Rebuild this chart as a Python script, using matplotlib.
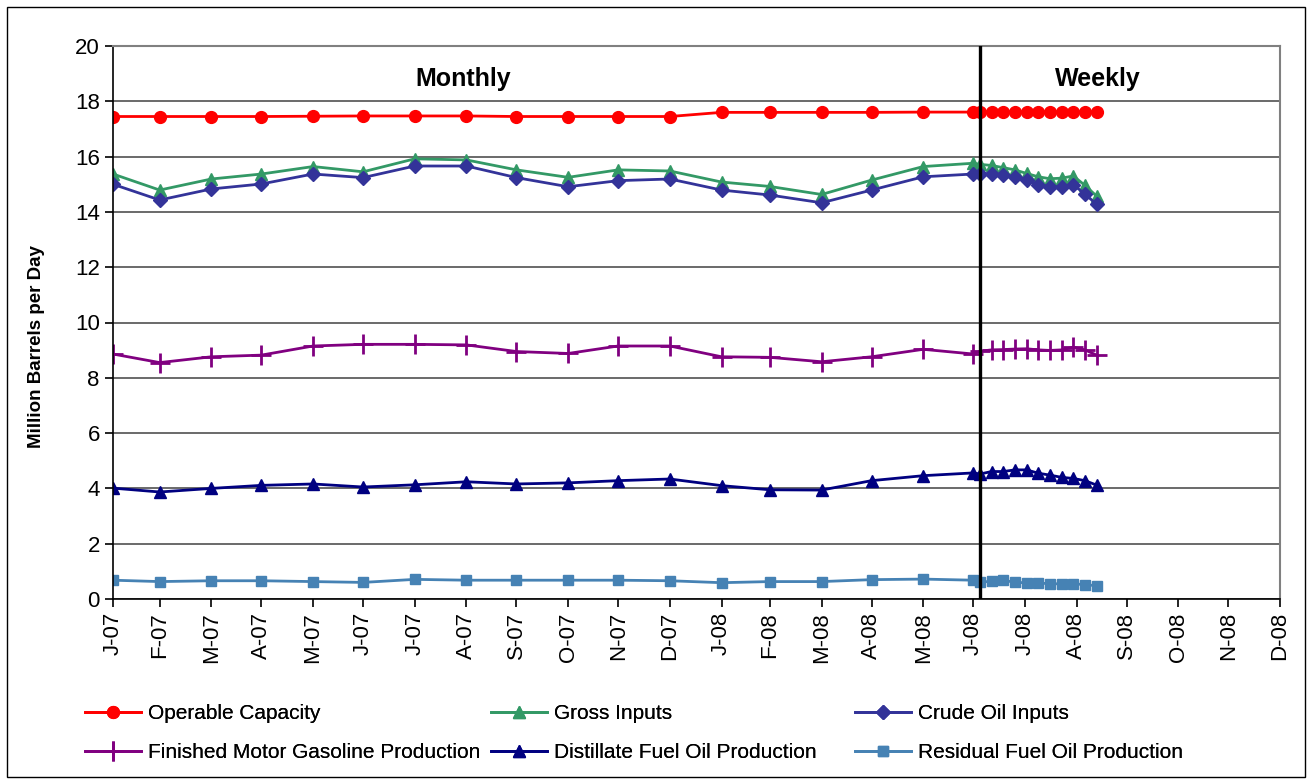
import matplotlib
matplotlib.use("Agg")
import matplotlib.pyplot as plt
import matplotlib.dates as mdates
from matplotlib.patches import Rectangle
import pandas as pd

plt.rcParams['font.family'] = ['Liberation Sans', 'DejaVu Sans']

# monthly points are dated at month end, weekly points are week-ending Fridays
monthly_dates = pd.date_range('2007-01-31', '2008-06-30', freq='ME')
weekly_dates = pd.date_range('2008-07-04', periods=11, freq='7D')
tick_dates = pd.date_range('2007-01-31', '2008-12-31', freq='ME')
tick_labels = ['J-07', 'F-07', 'M-07', 'A-07', 'M-07', 'J-07', 'J-07', 'A-07',
               'S-07', 'O-07', 'N-07', 'D-07', 'J-08', 'F-08', 'M-08', 'A-08',
               'M-08', 'J-08', 'J-08', 'A-08', 'S-08', 'O-08', 'N-08', 'D-08']

capacity_m = [17.45, 17.45, 17.45, 17.45, 17.46, 17.47, 17.47, 17.47, 17.45,
              17.45, 17.45, 17.45, 17.60, 17.60, 17.60, 17.60, 17.61, 17.61]
capacity_w = [17.62, 17.62, 17.62, 17.62, 17.62, 17.62, 17.62, 17.62, 17.62, 17.62, 17.62]

gross_m = [15.37, 14.79, 15.19, 15.37, 15.64, 15.45, 15.92, 15.88, 15.52,
           15.25, 15.52, 15.48, 15.08, 14.92, 14.63, 15.15, 15.64, 15.76]
gross_w = [15.72, 15.68, 15.60, 15.52, 15.39, 15.27, 15.20, 15.22, 15.30, 14.96, 14.57]

crude_m = [15.00, 14.43, 14.83, 15.01, 15.37, 15.24, 15.66, 15.66, 15.24,
           14.91, 15.13, 15.19, 14.79, 14.61, 14.33, 14.79, 15.27, 15.37]
crude_w = [15.38, 15.38, 15.32, 15.26, 15.15, 14.99, 14.91, 14.91, 14.98, 14.65, 14.27]

gasoline_m = [8.86, 8.55, 8.76, 8.82, 9.15, 9.21, 9.21, 9.19, 8.95,
              8.88, 9.15, 9.15, 8.76, 8.74, 8.58, 8.76, 9.03, 8.86]
gasoline_w = [8.96, 9.01, 9.02, 9.04, 9.05, 9.01, 8.99, 9.01, 9.11, 9.01, 8.82]

distillate_m = [4.01, 3.87, 4.00, 4.11, 4.16, 4.05, 4.13, 4.24, 4.16,
                4.20, 4.28, 4.34, 4.10, 3.95, 3.94, 4.28, 4.46, 4.56]
distillate_w = [4.52, 4.61, 4.61, 4.67, 4.67, 4.55, 4.48, 4.40, 4.36, 4.28, 4.12]

residual_m = [0.68, 0.63, 0.66, 0.66, 0.63, 0.60, 0.71, 0.68, 0.68,
              0.68, 0.68, 0.66, 0.59, 0.63, 0.63, 0.70, 0.72, 0.68]
residual_w = [0.61, 0.64, 0.67, 0.61, 0.58, 0.58, 0.55, 0.55, 0.55, 0.52, 0.48]

dates = list(monthly_dates) + list(weekly_dates)

fig = plt.figure(figsize=(13.09, 7.80), dpi=100)
ax = fig.add_axes([113/1309, 1 - 599/780, 1167/1309, 553/780])

ax.set_ylim(0, 20)
ax.set_yticks(range(0, 21, 2))
ax.set_xlim(tick_dates[0], tick_dates[-1])
ax.yaxis.grid(True, color='#505050', linewidth=1.2)
ax.set_axisbelow(True)

s1, = ax.plot(dates, capacity_m + capacity_w, color='#FF0000', lw=2,
              marker='o', ms=8.5)
s2, = ax.plot(dates, gross_m + gross_w, color='#339966', lw=2,
              marker='^', ms=8.5)
s3, = ax.plot(dates, crude_m + crude_w, color='#333399', lw=2,
              marker='D', ms=7)
s4, = ax.plot(dates, gasoline_m + gasoline_w, color='#800080', lw=2,
              marker='+', ms=14, mew=2)
s5, = ax.plot(dates, distillate_m + distillate_w, color='#000080', lw=2,
              marker='^', ms=8.5)
s6, = ax.plot(dates, residual_m + residual_w, color='#4682B4', lw=2,
              marker='s', ms=7.5)

# split between monthly and weekly data
ax.axvline(weekly_dates[0], color='black', lw=2.4, zorder=5)

ax.text(0.30, 0.94, 'Monthly', transform=ax.transAxes, ha='center', va='center',
        fontsize=18, fontweight='bold')
ax.text(0.844, 0.94, 'Weekly', transform=ax.transAxes, ha='center', va='center',
        fontsize=18, fontweight='bold')

ax.set_xticks(tick_dates)
ax.set_xticklabels(tick_labels, rotation=90, fontsize=16)
ax.tick_params(axis='y', labelsize=16, length=6, width=1.2)
ax.tick_params(axis='x', length=6, width=1.2)
ax.set_ylabel('Million Barrels per Day', fontsize=13.5, fontweight='bold')
ax.yaxis.set_label_coords(-0.058, 0.456)

for side in ['top', 'right']:
    ax.spines[side].set_color('#808080')
    ax.spines[side].set_linewidth(1.5)
for side in ['left', 'bottom']:
    ax.spines[side].set_color('black')
    ax.spines[side].set_linewidth(1.2)

# one legend per column so the columns sit where they do in the original
columns = [([s1, s4], ['Operable Capacity', 'Finished Motor Gasoline Production'], 85),
           ([s2, s5], ['Gross Inputs', 'Distillate Fuel Oil Production'], 491),
           ([s3, s6], ['Crude Oil Inputs', 'Residual Fuel Oil Production'], 855)]
for handles, labels, xpix in columns:
    leg = fig.legend(handles, labels, loc='upper left',
                     bbox_to_anchor=(xpix/1309, 1 - 704/780), frameon=False,
                     fontsize=15, handlelength=2.7, handletextpad=0.3,
                     borderpad=0, borderaxespad=0, labelspacing=0.95)
    fig.add_artist(leg)

fig.add_artist(Rectangle((7/1309, 3/780), 1298/1309, 770/780, transform=fig.transFigure,
                         fill=False, edgecolor='black', lw=1))

fig.savefig('out.png', dpi=100)
